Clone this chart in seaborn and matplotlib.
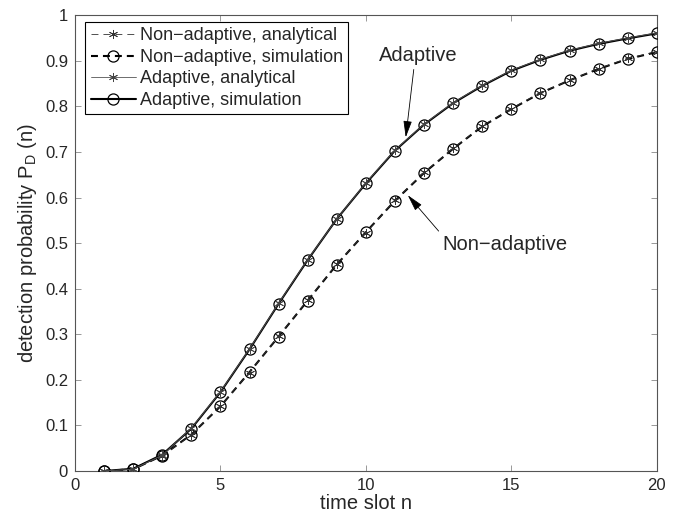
import numpy as np
import pandas as pd
import matplotlib
matplotlib.use('Agg')
import matplotlib.pyplot as plt
import seaborn as sns

sns.set_style('ticks')
plt.rcParams['font.family'] = ['Liberation Sans', 'DejaVu Sans']
plt.rcParams['mathtext.fontset'] = 'custom'
plt.rcParams['mathtext.rm'] = 'Liberation Sans'
plt.rcParams['mathtext.it'] = 'Liberation Sans'
plt.rcParams['lines.scale_dashes'] = False

# time slots
slots = list(range(1, 21))

# values
nonadapt_analytical = [0.000, 0.004, 0.033, 0.079, 0.143, 0.216, 0.296, 0.375, 0.454, 0.523,
                       0.594, 0.655, 0.708, 0.757, 0.795, 0.830, 0.857, 0.883, 0.905, 0.920]
nonadapt_simulation = [0.000, 0.004, 0.034, 0.080, 0.142, 0.217, 0.295, 0.374, 0.453, 0.524,
                       0.593, 0.654, 0.707, 0.756, 0.794, 0.829, 0.857, 0.882, 0.904, 0.919]
adapt_analytical = [0.000, 0.004, 0.035, 0.094, 0.174, 0.268, 0.368, 0.464, 0.553, 0.632,
                    0.704, 0.761, 0.808, 0.846, 0.879, 0.903, 0.923, 0.938, 0.950, 0.961]
adapt_simulation = [0.000, 0.005, 0.036, 0.093, 0.173, 0.267, 0.367, 0.463, 0.553, 0.631,
                    0.703, 0.760, 0.807, 0.845, 0.878, 0.902, 0.922, 0.937, 0.949, 0.960]

series_names = ['Non\u2212adaptive, analytical', 'Non\u2212adaptive, simulation',
                'Adaptive, analytical', 'Adaptive, simulation']

df = pd.DataFrame({'n': slots,
                   series_names[0]: nonadapt_analytical,
                   series_names[1]: nonadapt_simulation,
                   series_names[2]: adapt_analytical,
                   series_names[3]: adapt_simulation})

fig = plt.figure(figsize=(6.82, 5.18), dpi=100)
ax = fig.add_axes([0.110, 0.0907, 0.853, 0.880])

dash = (0, (5, 3.6))
star = (6, 2, 0)
# simulation lines (thicker, hollow circles)
sns.lineplot(data=df, x='n', y=series_names[1], ax=ax, color='black', lw=1.5,
             dashes=False, linestyle=dash, marker='o', markersize=8,
             markerfacecolor='none', markeredgecolor='black', markeredgewidth=0.9,
             label=series_names[1], zorder=3)
sns.lineplot(data=df, x='n', y=series_names[3], ax=ax, color='black', lw=1.5,
             marker='o', markersize=8, markerfacecolor='none',
             markeredgecolor='black', markeredgewidth=0.9,
             label=series_names[3], zorder=3)
# analytical lines (thin, asterisks)
sns.lineplot(data=df, x='n', y=series_names[0], ax=ax, color='#333333', lw=0.6,
             dashes=False, linestyle=dash, marker=star, markersize=6.5,
             markeredgecolor='#333333', markeredgewidth=0.6,
             label=series_names[0], zorder=4)
sns.lineplot(data=df, x='n', y=series_names[2], ax=ax, color='#555555', lw=0.6,
             marker=star, markersize=6.5, markeredgecolor='#444444',
             markeredgewidth=0.6, label=series_names[2], zorder=4)

ax.set_xlim(0, 20)
ax.set_ylim(0, 1)
ax.set_xticks([0, 5, 10, 15, 20])
ax.set_yticks(np.arange(0, 1.01, 0.1))
ax.set_yticklabels(['0', '0.1', '0.2', '0.3', '0.4', '0.5', '0.6', '0.7', '0.8', '0.9', '1'])
ax.tick_params(direction='in', top=True, right=True, length=4, width=0.6,
               color='#888888', labelsize=12, pad=5)
for sp in ax.spines.values():
    sp.set_linewidth(0.8)
    sp.set_color('#555555')
ax.set_xlabel('time slot n', fontsize=14.5, labelpad=1)
ax.set_ylabel('detection probability P$_\\mathrm{D}$ (n)', fontsize=14.5, labelpad=4)

handles, labels = ax.get_legend_handles_labels()
order = [labels.index(s) for s in series_names]
leg = ax.legend([handles[i] for i in order], [labels[i] for i in order],
                loc='upper left', bbox_to_anchor=(0.018, 0.985), fontsize=13,
                frameon=True, fancybox=False, edgecolor='black', framealpha=1,
                handlelength=2.5, handletextpad=0.2, borderpad=0.3,
                labelspacing=0.25, borderaxespad=0)
leg.get_frame().set_linewidth(0.8)

arrow = dict(arrowstyle='-|>,head_length=0.7,head_width=0.18', color='black',
             lw=0.6, shrinkA=1, shrinkB=0)
ax.annotate('Adaptive', xy=(11.37, 0.732), xytext=(11.8, 0.912), fontsize=14.5,
            ha='center', va='center', arrowprops=dict(arrow, relpos=(0.45, 0)))
ax.annotate('Non\u2212adaptive', xy=(11.44, 0.605), xytext=(14.78, 0.496), fontsize=14.5,
            ha='center', va='center', arrowprops=dict(arrow, relpos=(0, 1)))

fig.savefig('out.png', dpi=100)
